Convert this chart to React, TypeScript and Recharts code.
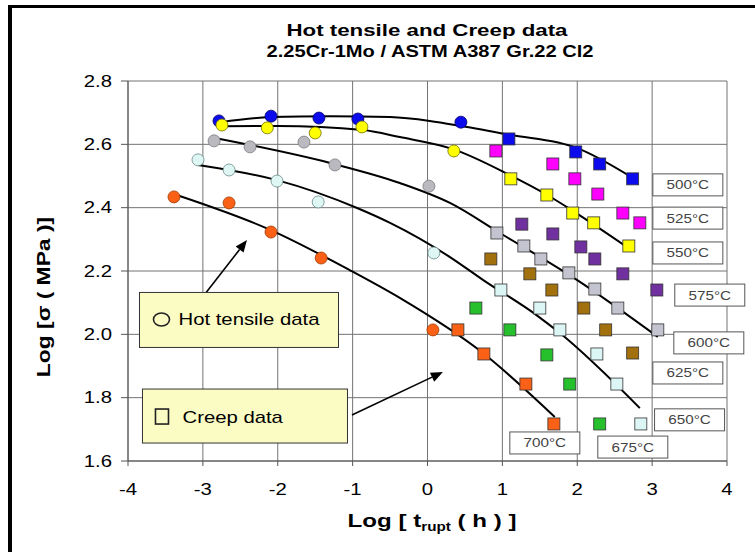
import React from 'react';
import {
  ComposedChart,
  XAxis,
  YAxis,
  CartesianGrid,
  Scatter,
  Line,
  ReferenceDot,
  ReferenceLine,
} from 'recharts';

type P = { x: number; y: number };
const pts = (a: number[][]): P[] => a.map(([x, y]) => ({ x, y }));

// ---- ticks ----
const xTicks = [-4, -3, -2, -1, 0, 1, 2, 3, 4];
const yTicks = [1.6, 1.8, 2.0, 2.2, 2.4, 2.6, 2.8];

// ---- hot tensile data (circles) ----
const tensile500 = pts([[-2.785, 2.674], [-2.09, 2.689], [-1.45, 2.683], [-0.93, 2.68], [0.446, 2.67]]);
const tensile550 = pts([[-2.745, 2.661], [-2.14, 2.652], [-1.5, 2.636], [-0.876, 2.655], [0.352, 2.579]]);
const tensile600 = pts([[-2.85, 2.611], [-2.37, 2.592], [-1.65, 2.607], [-1.236, 2.535], [0.019, 2.468]]);
const tensile650 = pts([[-3.065, 2.551], [-2.65, 2.519], [-2.01, 2.484], [-1.46, 2.418], [0.085, 2.257]]);
const tensile700 = pts([[-3.386, 2.434], [-2.65, 2.415], [-2.09, 2.323], [-1.42, 2.241], [0.072, 2.014]]);

// ---- creep data (squares) ----
const creep500 = pts([[1.087, 2.617], [1.98, 2.576], [2.3, 2.538], [2.74, 2.491]]);
const creep525 = pts([[0.913, 2.579], [1.674, 2.538], [1.968, 2.491], [2.275, 2.443], [2.609, 2.383], [2.836, 2.352]]);
const creep550 = pts([[1.113, 2.491], [1.594, 2.44], [1.94, 2.383], [2.22, 2.352], [2.689, 2.279]]);
const creep575 = pts([[1.26, 2.348], [1.674, 2.317], [2.048, 2.276], [2.235, 2.238], [2.609, 2.191], [3.063, 2.14]]);
const creep600 = pts([[0.927, 2.32], [1.287, 2.279], [1.514, 2.238], [1.888, 2.194], [2.235, 2.143], [2.542, 2.083], [3.076, 2.014]]);
const creep625 = pts([[0.846, 2.238], [1.367, 2.191], [1.661, 2.14], [2.088, 2.083], [2.38, 2.014], [2.74, 1.941]]);
const creep650 = pts([[0.98, 2.14], [1.5, 2.083], [1.768, 2.014], [2.262, 1.938], [2.529, 1.843], [2.849, 1.717]]);
const creep675 = pts([[0.646, 2.083], [1.1, 2.014], [1.594, 1.935], [1.9, 1.843], [2.3, 1.717]]);
const creep700 = pts([[0.406, 2.014], [0.753, 1.938], [1.314, 1.843], [1.688, 1.717]]);

// ---- fitted master curves ----
const curve500 = pts([[-2.77, 2.67], [-2.1, 2.686], [-1.3, 2.689], [-0.5, 2.686], [0.03, 2.674], [0.45, 2.658], [1.1, 2.63], [2.0, 2.588], [2.74, 2.494]]);
const curve550 = pts([[-2.73, 2.657], [-2.0, 2.658], [-0.86, 2.645], [-0.37, 2.623], [0.34, 2.585], [1.1, 2.503], [1.6, 2.44], [1.94, 2.39], [2.7, 2.27]]);
const curve600 = pts([[-2.84, 2.62], [-1.3, 2.541], [-0.37, 2.478], [0.3, 2.415], [0.967, 2.32], [1.995, 2.172], [3.076, 1.992]]);
const curve650 = pts([[-3.065, 2.535], [-2.01, 2.487], [-0.94, 2.399], [-0.5, 2.352], [0.3, 2.244], [0.74, 2.172], [1.46, 2.06], [1.768, 2.004], [2.836, 1.767]]);
const curve700 = pts([[-3.35, 2.44], [-2.1, 2.33], [-1.04, 2.203], [-0.37, 2.115], [0.74, 1.941], [1.7, 1.739]]);

// ---- temperature labels ----
const tempLabels = ['500°C', '525°C', '550°C', '575°C', '600°C', '625°C', '650°C', '700°C', '675°C'];
const tempLabelAnchors = pts([[3.477, 2.472], [3.477, 2.367], [3.477, 2.257], [3.77, 2.124], [3.757, 1.973], [3.477, 1.878], [3.5, 1.73], [1.567, 1.657], [2.742, 1.644]]);

// ---- styling ----
const SX = 1.27;
const FONT = 'Arial, "Liberation Sans", sans-serif';

const circleSeries = [
  { data: tensile500, fill: '#0b0bec', stroke: '#00006a' },
  { data: tensile550, fill: '#ffff00', stroke: '#707000' },
  { data: tensile600, fill: '#b9b9bf', stroke: '#7a7a80' },
  { data: tensile650, fill: '#def6f4', stroke: '#6a8a88' },
  { data: tensile700, fill: '#fa6116', stroke: '#a03800' },
];
const squareSeries = [
  { data: creep500, fill: '#0b0bec' },
  { data: creep525, fill: '#ff00ff' },
  { data: creep550, fill: '#ffff00' },
  { data: creep575, fill: '#7030a0' },
  { data: creep600, fill: '#c4c4d0' },
  { data: creep625, fill: '#a3700e' },
  { data: creep650, fill: '#dcf5f5' },
  { data: creep675, fill: '#25c02c' },
  { data: creep700, fill: '#fa6116' },
];
const curves = [curve500, curve550, curve600, curve650, curve700];

const Wide = (p: any) => {
  const { x, y, anchor = 'middle', size = 16, weight = 'normal', fill = '#000', rotate = 0, children } = p;
  return (
    <text
      transform={`translate(${x},${y})${rotate ? ` rotate(${rotate})` : ''} scale(${SX},1)`}
      textAnchor={anchor}
      fontSize={size}
      fontWeight={weight}
      fill={fill}
      fontFamily={FONT}
    >
      {children}
    </text>
  );
};

const YTick = (p: any) => (
  <Wide x={p.x} y={p.y + 5.6} anchor="end" size={16}>
    {Number(p.payload.value).toFixed(1)}
  </Wide>
);
const XTick = (p: any) => (
  <Wide x={p.x} y={p.y + 11.5} anchor="middle" size={16}>
    {String(p.payload.value)}
  </Wide>
);

const makeCircle = (fill: string, stroke: string) => (p: any) => (
  <circle cx={p.cx} cy={p.cy} r={6} fill={fill} stroke={stroke} strokeWidth={0.8} />
);
const makeSquare = (fill: string) => (p: any) => (
  <rect x={p.cx - 6} y={p.cy - 6} width={12} height={12} fill={fill} stroke="#333" strokeWidth={0.8} />
);

const makeTempBox = (label: string) => (p: any) => (
  <g>
    <rect x={p.cx - 35} y={p.cy - 11} width={70} height={22} fill="#fff" stroke="#555" strokeWidth={1} />
    <Wide x={p.cx} y={p.cy + 4.5} size={12} fill="#444">
      {label}
    </Wide>
  </g>
);

const HotBox = (p: any) => (
  <g>
    <rect x={p.cx - 100} y={p.cy - 27} width={199} height={55} fill="#fbfbc4" stroke="#333" strokeWidth={1} />
    <ellipse cx={p.cx - 78} cy={p.cy} rx={8} ry={6.5} fill="none" stroke="#222" strokeWidth={1.6} />
    <Wide x={p.cx - 61} y={p.cy + 6} anchor="start" size={16}>
      Hot tensile data
    </Wide>
  </g>
);
const CreepBox = (p: any) => (
  <g>
    <rect x={p.cx - 103} y={p.cy - 27} width={205} height={54} fill="#fbfbc4" stroke="#333" strokeWidth={1} />
    <rect x={p.cx - 90} y={p.cy - 7} width={13} height={15} fill="none" stroke="#222" strokeWidth={1.6} />
    <Wide x={p.cx - 63} y={p.cy + 7} anchor="start" size={16}>
      Creep data
    </Wide>
  </g>
);

const Arrow = (p: any) => {
  const { x1, y1, x2, y2 } = p;
  const ang = Math.atan2(y2 - y1, x2 - x1);
  const L = 12, W = 5;
  const bx = x2 - L * Math.cos(ang), by = y2 - L * Math.sin(ang);
  const nx = -Math.sin(ang) * W, ny = Math.cos(ang) * W;
  return (
    <g>
      <line x1={x1} y1={y1} x2={bx} y2={by} stroke="#000" strokeWidth={1.6} />
      <polygon points={`${x2},${y2} ${bx + nx},${by + ny} ${bx - nx},${by - ny}`} fill="#000" />
    </g>
  );
};

export default function App() {
  return (
    <div style={{ position: 'absolute', left: 0, top: 0, width: 755, height: 552, background: '#fff', overflow: 'hidden' }}>
      <ComposedChart
        width={755}
        height={552}
        margin={{ top: 81, right: 28, bottom: 61, left: 68 }}
        style={{ position: 'absolute', left: 0, top: 0 }}
      >
        <CartesianGrid stroke="#737373" strokeWidth={1} />
        <XAxis
          type="number"
          dataKey="x"
          domain={[-4, 4]}
          ticks={xTicks}
          interval={0}
          height={30}
          allowDataOverflow
          stroke="#555"
          tickSize={5}
          tickMargin={17}
          tick={XTick}
        />
        <YAxis
          type="number"
          dataKey="y"
          domain={[1.6, 2.8]}
          ticks={yTicks}
          interval={0}
          width={60}
          allowDataOverflow
          stroke="#555"
          tickSize={7}
          tickMargin={9}
          tick={YTick}
        />
        {curves.map((c, i) => (
          <Line
            key={'c' + i}
            data={c}
            dataKey="y"
            type="monotone"
            stroke="#000"
            strokeWidth={2}
            dot={false}
            activeDot={false}
            isAnimationActive={false}
          />
        ))}
        {squareSeries.map((s, i) => (
          <Scatter key={'s' + i} data={s.data} dataKey="y" shape={makeSquare(s.fill)} isAnimationActive={false} />
        ))}
        {circleSeries.map((s, i) => (
          <Scatter key={'t' + i} data={s.data} dataKey="y" shape={makeCircle(s.fill, s.stroke)} isAnimationActive={false} />
        ))}
        {tempLabels.map((t, i) => (
          <ReferenceDot
            key={'l' + i}
            x={tempLabelAnchors[i].x}
            y={tempLabelAnchors[i].y}
            ifOverflow="visible"
            shape={makeTempBox(t)}
          />
        ))}
        <ReferenceDot x={-2.511} y={2.047} ifOverflow="visible" shape={HotBox} />
        <ReferenceDot x={-2.431} y={1.742} ifOverflow="visible" shape={CreepBox} />
        <ReferenceLine segment={[{ x: -2.959, y: 2.131 }, { x: -2.411, y: 2.298 }]} ifOverflow="visible" shape={Arrow} />
        <ReferenceLine segment={[{ x: -1.009, y: 1.745 }, { x: 0.206, y: 1.881 }]} ifOverflow="visible" shape={Arrow} />
      </ComposedChart>
      <svg width={755} height={552} style={{ position: 'absolute', left: 0, top: 0, pointerEvents: 'none' }}>
        <text x={427} y={36} textAnchor="middle" fontSize={17} fontWeight="bold" fontFamily={FONT} textLength={281} lengthAdjust="spacingAndGlyphs">
          Hot tensile and Creep data
        </text>
        <text x={430} y={57} textAnchor="middle" fontSize={17} fontWeight="bold" fontFamily={FONT} textLength={327} lengthAdjust="spacingAndGlyphs">
          2.25Cr-1Mo / ASTM A387 Gr.22  Cl2
        </text>
        <Wide x={50} y={297} rotate={-90} size={18} weight="bold">
          Log [σ ( MPa )]
        </Wide>
        <Wide x={432} y={527} size={19} weight="bold">
          <tspan>Log [ t</tspan>
          <tspan fontSize={12} dy={4}>rupt</tspan>
          <tspan dy={-4}> ( h ) ]</tspan>
        </Wide>
      </svg>
      <div
        style={{
          position: 'absolute',
          left: 8,
          top: 5,
          width: 800,
          height: 600,
          borderLeft: '4px solid #000',
          borderTop: '3px solid #000',
        }}
      />
    </div>
  );
}
